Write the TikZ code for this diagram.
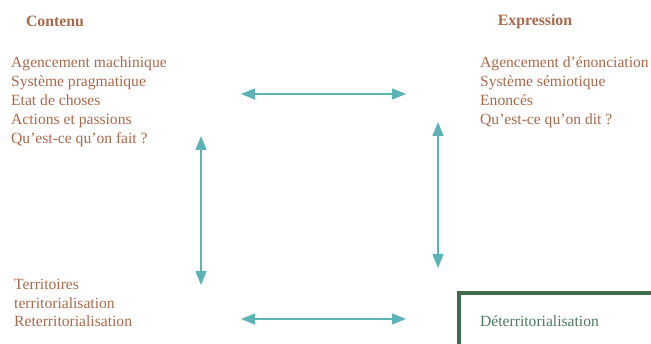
\documentclass[tikz,border=0pt]{standalone}
\usepackage{fontspec}
\setmainfont{Liberation Serif}
\usetikzlibrary{arrows.meta}
\definecolor{brownink}{HTML}{A8694B}
\definecolor{tealink}{HTML}{5CB4B6}
\definecolor{greenink}{HTML}{3F6B4C}
\definecolor{greentext}{HTML}{4C7A5C}
\begin{document}
\begin{tikzpicture}[x=1pt,y=-1pt,
  heading/.style={text=brownink,font=\fontsize{15.8}{19}\selectfont\bfseries,inner sep=0pt},
  itemlist/.style={text=brownink,font=\fontsize{15.6}{19}\selectfont,align=left,anchor=north west,inner sep=0pt},
  link/.style={draw=tealink,line width=1.4pt,{Triangle[length=14pt,width=11pt]}-{Triangle[length=14pt,width=11pt]}},
  frame/.style={draw=greenink,line width=4pt}]
\useasboundingbox (0,0) rectangle (651,344);

% column headings
\node[heading] (contenu) at (55,21.5) {Contenu};
\node[heading] (expression) at (535,21.5) {Expression};

% the four blocks of terms
\node[itemlist] (content) at (11,56) {Agencement machinique\\Système pragmatique\\Etat de choses\\Actions et passions\\Qu’est-ce qu’on fait ?};
\node[itemlist] (express) at (480,56) {Agencement d’énonciation\\Système sémiotique\\Enoncés\\Qu’est-ce qu’on dit ?};
\node[itemlist,font=\fontsize{15.6}{18.5}\selectfont] (territ) at (14,279) {Territoires\\territorialisation\\Reterritorialisation};

% framed corner
\draw[frame] (651,293) -- (459,293) -- (459,344);
\node[text=greentext,font=\fontsize{15.6}{19}\selectfont,anchor=west,inner sep=0pt] (deterr) at (480,321) {Déterritorialisation};

% arrow end points
\coordinate (tl) at (241,94);
\coordinate (tr) at (406,94);
\coordinate (bl) at (241,319);
\coordinate (br) at (406,319);
\coordinate (lt) at (201,136);
\coordinate (lb) at (201,285);
\coordinate (rt) at (438,122);
\coordinate (rb) at (438,268);

\draw[link] (tl) -- (tr);
\draw[link] (bl) -- (br);
\draw[link] (lt) -- (lb);
\draw[link] (rt) -- (rb);
\end{tikzpicture}
\end{document}
